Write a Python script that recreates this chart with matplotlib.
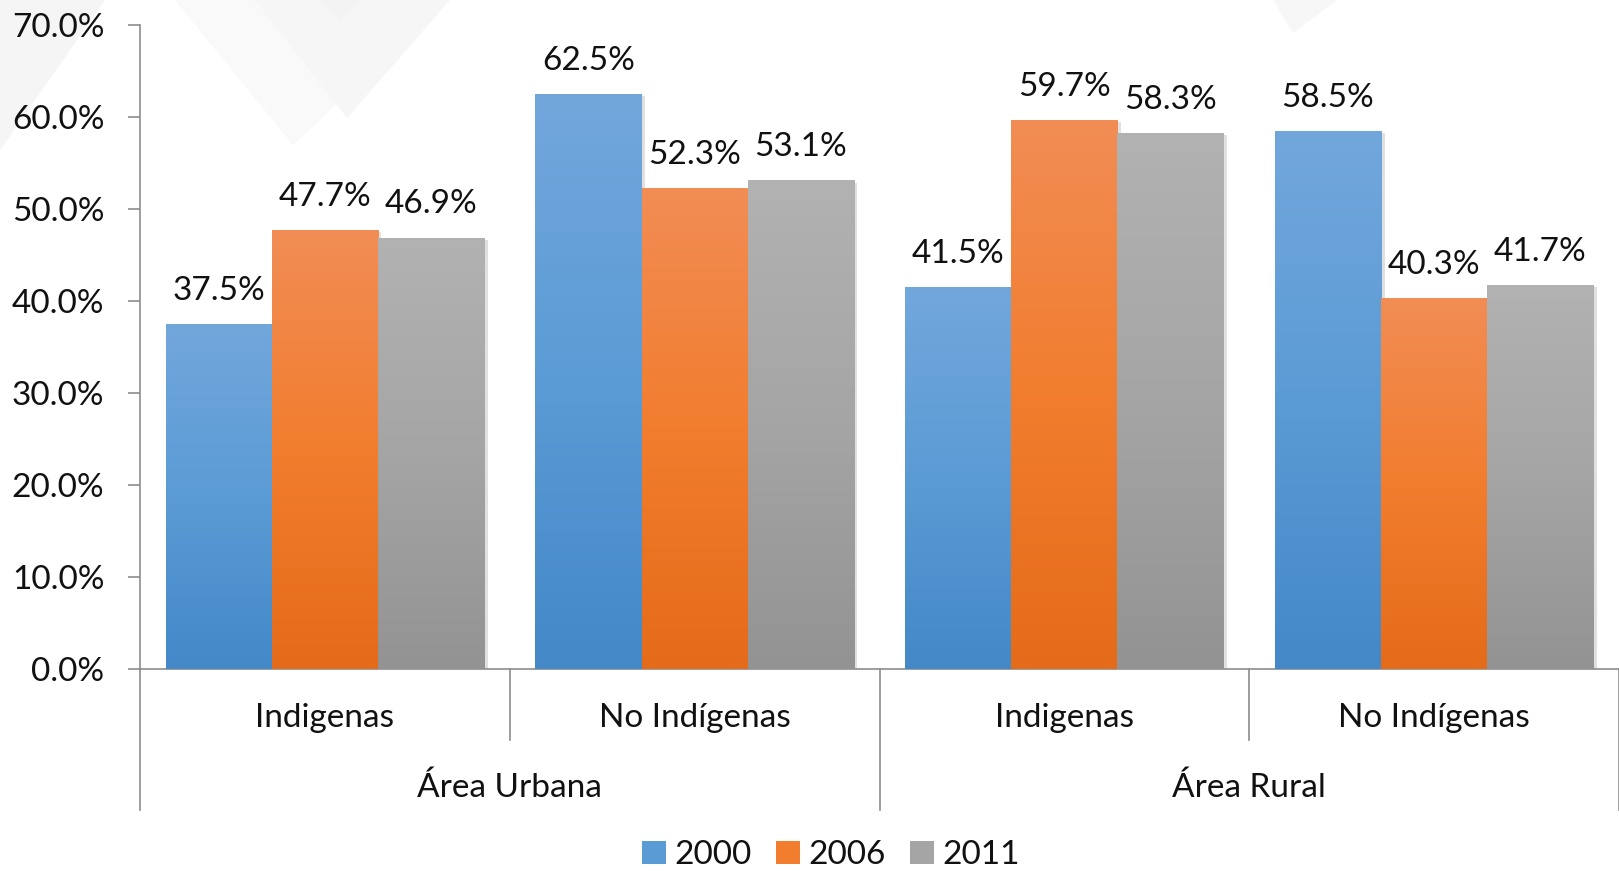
import numpy as np
import matplotlib
matplotlib.use("Agg")
import matplotlib.pyplot as plt
from matplotlib.patches import Polygon, Patch
from matplotlib.colors import LinearSegmentedColormap
import matplotlib.patheffects as pe
import matplotlib.transforms as mtrans

# ---- data ----
subcategories = ["Indigenas", "No Indígenas", "Indigenas", "No Indígenas"]
areas = ["Área Urbana", "Área Rural"]
years = ["2000", "2006", "2011"]
v2000 = [37.5, 62.5, 41.5, 58.5]
v2006 = [47.7, 52.3, 59.7, 40.3]
v2011 = [46.9, 53.1, 58.3, 41.7]
yticks = [0, 10, 20, 30, 40, 50, 60, 70]

series = [v2000, v2006, v2011]
grad_colors = [
    ("#72A7DC", "#5B9BD5", "#4488C8"),
    ("#F18D55", "#F27D2E", "#E46B19"),
    ("#B2B2B2", "#A5A5A5", "#939393"),
]

W, H = 1619, 871
plt.rcParams['font.family'] = ['Lato', 'DejaVu Sans']
fig = plt.figure(figsize=(W / 100, H / 100), dpi=100)
fig.patch.set_facecolor("white")

def fp(x, y):
    return (x / W, 1 - y / H)

# faint watermark shapes
wm = [
    ([(0, 0), (105, 0), (0, 150)], "#F5F5F5"),
    ([(175, 0), (293, 145), (447, 0)], "#F9F9F9"),
    ([(255, 0), (347, 118), (450, 0)], "#F6F6F6"),
    ([(320, 0), (340, 22), (360, 0)], "#F3F3F3"),
    ([(1273, 0), (1293, 33), (1337, 0)], "#F7F7F7"),
]
for pts, c in wm:
    fig.patches.append(Polygon([fp(*p) for p in pts], closed=True, transform=fig.transFigure,
                               facecolor=c, edgecolor="none", zorder=-10))

left, right = 140 / W, 1.0
top, bottom = 25 / H, 669 / H
ax = fig.add_axes([left, 1 - bottom, right - left, bottom - top])
ax.patch.set_alpha(0)

n = len(subcategories)
x = np.arange(n)
bw = 0.287
offsets = [-bw, 0, bw]
axc = "#8C8C8C"
fs = 24

for si, (vals, cols) in enumerate(zip(series, grad_colors)):
    cmap = LinearSegmentedColormap.from_list("g%d" % si, [cols[2], cols[1], cols[0]])
    bars = ax.bar(x + offsets[si], vals, width=bw, color=cols[1], zorder=2,
                  path_effects=[pe.SimplePatchShadow(offset=(2.5, -1.5), alpha=0.18, shadow_rgbFace="#555555"), pe.Normal()])
    grad = np.linspace(0, 1, 256).reshape(-1, 1)
    for b, v in zip(bars, vals):
        x0 = b.get_x()
        im = ax.imshow(grad, extent=[x0, x0 + bw, 0, v], origin="lower", cmap=cmap,
                       aspect="auto", zorder=3, interpolation="bicubic")
        im.set_clip_path(b)
        ax.annotate(f"{v:.1f}%", (x0 + bw / 2, v), xytext=(0, 13), textcoords="offset points",
                    ha="center", va="bottom", fontsize=fs, color="#111111", zorder=5)

ax.set_xlim(-0.5, n - 0.5)
ax.set_ylim(0, 70)
ax.set_yticks(yticks)
ax.set_yticklabels([f"{t:.1f}%" for t in yticks])
ax.tick_params(axis="y", length=8.6, width=1.2, color=axc, pad=17, labelsize=fs, labelcolor="#111111")
ax.set_xticks([])
for s in ["top", "right"]:
    ax.spines[s].set_visible(False)
ax.spines["left"].set_color(axc)
ax.spines["bottom"].set_color(axc)
ax.spines["left"].set_linewidth(1.2)
ax.spines["bottom"].set_linewidth(1.2)
ax.spines["bottom"].set_bounds(-0.5, n - 0.5)

trans = mtrans.blended_transform_factory(ax.transData, ax.transAxes)
ah = (bottom - top) * H
y1 = -(740 - 669) / ah
y2 = -(810 - 669) / ah
for b in [0.5, 2.5]:
    ax.plot([b, b], [0, y1], transform=trans, color=axc, lw=1.2, clip_on=False)
for b in [-0.5, 1.5, 3.5]:
    ax.plot([b, b], [0, y2], transform=trans, color=axc, lw=1.2, clip_on=False)

yl1 = -(718 - 669) / ah
yl2 = -(788 - 669) / ah
for i, lab in enumerate(subcategories):
    ax.text(i, yl1, lab, transform=trans, ha="center", va="center", fontsize=fs, color="#111111")
for j, lab in enumerate(areas):
    ax.text(2 * j + 0.5, yl2, lab, transform=trans, ha="center", va="center", fontsize=fs, color="#111111")

handles = [Patch(facecolor=c[1], edgecolor="none") for c in grad_colors]
fig.legend(handles, years, loc="center", bbox_to_anchor=(831 / W, 1 - 855 / H), ncol=3,
           frameon=False, fontsize=fs, handlelength=0.7, handleheight=0.7,
           handletextpad=0.25, columnspacing=0.75, labelcolor="#111111")

fig.savefig("out.png", dpi=100, facecolor="white")
